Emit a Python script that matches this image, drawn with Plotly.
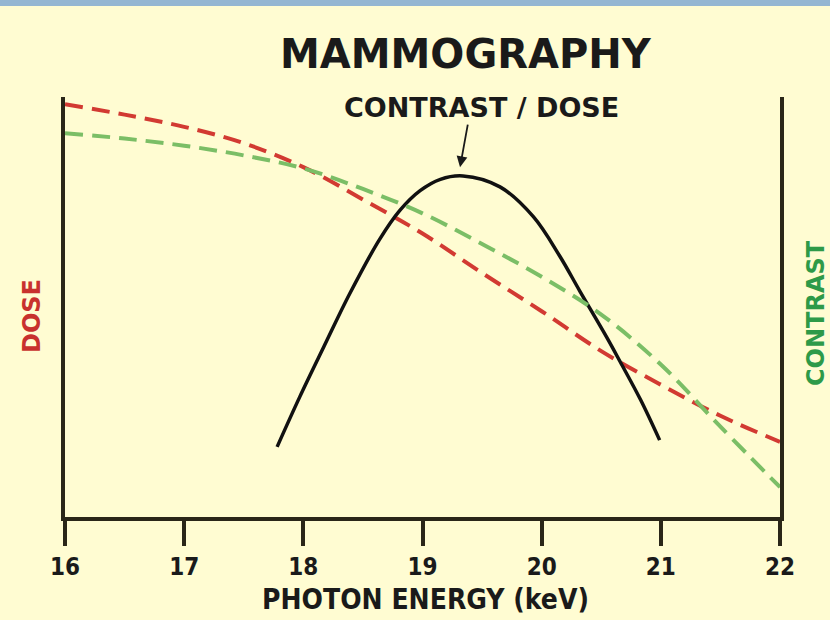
import plotly.graph_objects as go

# ---- data ----
energy_grid = [16.0, 16.5, 17.0, 17.5, 18.0, 18.5, 19.0, 19.5, 20.0, 20.5, 21.0, 21.5, 22.0]
dose = [0.983, 0.958, 0.929, 0.890, 0.833, 0.756, 0.675, 0.581, 0.490, 0.395, 0.315, 0.241, 0.179]
contrast = [0.914, 0.901, 0.884, 0.861, 0.830, 0.781, 0.723, 0.650, 0.572, 0.482, 0.363, 0.215, 0.071]

ratio_energy = [17.78, 17.97, 18.17, 18.39, 18.64, 18.81, 18.98, 19.15, 19.34, 19.65,
                19.93, 20.15, 20.32, 20.55, 20.66, 20.83, 20.99]
ratio = [0.167, 0.286, 0.404, 0.532, 0.661, 0.730, 0.777, 0.804, 0.812, 0.786,
         0.715, 0.622, 0.538, 0.426, 0.369, 0.279, 0.183]

x_ticks = [16, 17, 18, 19, 20, 21, 22]
x_tick_labels = ["16", "17", "18", "19", "20", "21", "22"]

# ---- styles ----
BG = "#FFFCD2"
AXIS = "#2a2618"
RED = "#D23A32"
GREEN = "#7BBE66"
HEAVY = "DejaVu Sans, Liberation Sans, Arial, sans-serif"
NARROW = "DejaVu Sans Condensed, Liberation Sans Narrow, Arial Narrow, DejaVu Sans, sans-serif"

fig = go.Figure()
fig.add_trace(go.Scatter(x=energy_grid, y=dose, mode="lines", name="DOSE",
                         line=dict(color=RED, width=4, dash="18px,9px", shape="spline"),
                         yaxis="y"))
fig.add_trace(go.Scatter(x=energy_grid, y=contrast, mode="lines", name="CONTRAST",
                         line=dict(color=GREEN, width=4, dash="18px,9px", shape="spline"),
                         yaxis="y2"))
fig.add_trace(go.Scatter(x=ratio_energy, y=ratio, mode="lines", name="CONTRAST / DOSE",
                         line=dict(color="#111111", width=3.5, shape="spline", smoothing=1.0),
                         yaxis="y"))

W, H = 830, 620
L, R, T, B = 65, 50, 97, 103
plot_h = H - T - B

def py(pix):
    """paper y for a pixel row"""
    return (H - B - pix) / plot_h

def px(pix):
    return (pix - L) / (W - L - R)

fig.update_layout(
    width=W, height=H,
    margin=dict(l=L, r=R, t=T, b=B, pad=0),
    paper_bgcolor=BG, plot_bgcolor=BG,
    showlegend=False,
    xaxis=dict(range=[16, 22], tickvals=x_ticks, ticktext=x_tick_labels,
               showgrid=False, zeroline=False, showline=True, linecolor=AXIS, linewidth=4,
               ticks="outside", ticklen=25, tickwidth=3.5, tickcolor=AXIS,
               tickfont=dict(family=NARROW, size=24, color="#1a1a1a", weight="bold")),
    yaxis=dict(range=[0, 1], showgrid=False, zeroline=False, showline=True,
               linecolor=AXIS, linewidth=4, showticklabels=False, ticks=""),
    yaxis2=dict(range=[0, 1], overlaying="y", side="right", showgrid=False, zeroline=False,
                showline=True, linecolor=AXIS, linewidth=4, showticklabels=False, ticks=""),
)

# top blue strip of the slide
fig.add_shape(type="rect", xref="paper", yref="paper",
              x0=px(0), x1=px(W), y0=py(6), y1=py(0),
              fillcolor="#94B6D2", line=dict(width=0), layer="below")

anns = [
    dict(text="MAMMOGRAPHY", x=px(466), y=py(54), font=dict(family=HEAVY, size=40, color="#1a1a1a", weight="bold")),
    dict(text="CONTRAST / DOSE", x=px(482), y=py(107), font=dict(family=HEAVY, size=27, color="#1a1a1a", weight="bold")),
    dict(text="PHOTON ENERGY (keV)", x=px(425), y=py(599), font=dict(family=NARROW, size=28, color="#1a1a1a", weight="bold")),
    dict(text="DOSE", x=px(32), y=py(316), textangle=-90, font=dict(family=HEAVY, size=24, color="#C8312E", weight="bold")),
    dict(text="CONTRAST", x=px(816), y=py(313), textangle=-90, font=dict(family=HEAVY, size=24, color="#2E9A48", weight="bold")),
]
for a in anns:
    fig.add_annotation(xref="paper", yref="paper", showarrow=False,
                       xanchor="center", yanchor="middle", **a)

# arrow pointing at the peak of the contrast/dose curve
fig.add_annotation(x=19.315, y=0.833, xref="x", yref="y", text="",
                   showarrow=True, arrowhead=2, arrowsize=1.2, arrowwidth=1.8,
                   arrowcolor="#1a1a1a", ax=8, ay=-44)

fig.write_html(
    "out.html",
    config={"displayModeBar": False},
    post_script="document.body.style.margin='0';document.body.style.background='" + BG + "';",
)
